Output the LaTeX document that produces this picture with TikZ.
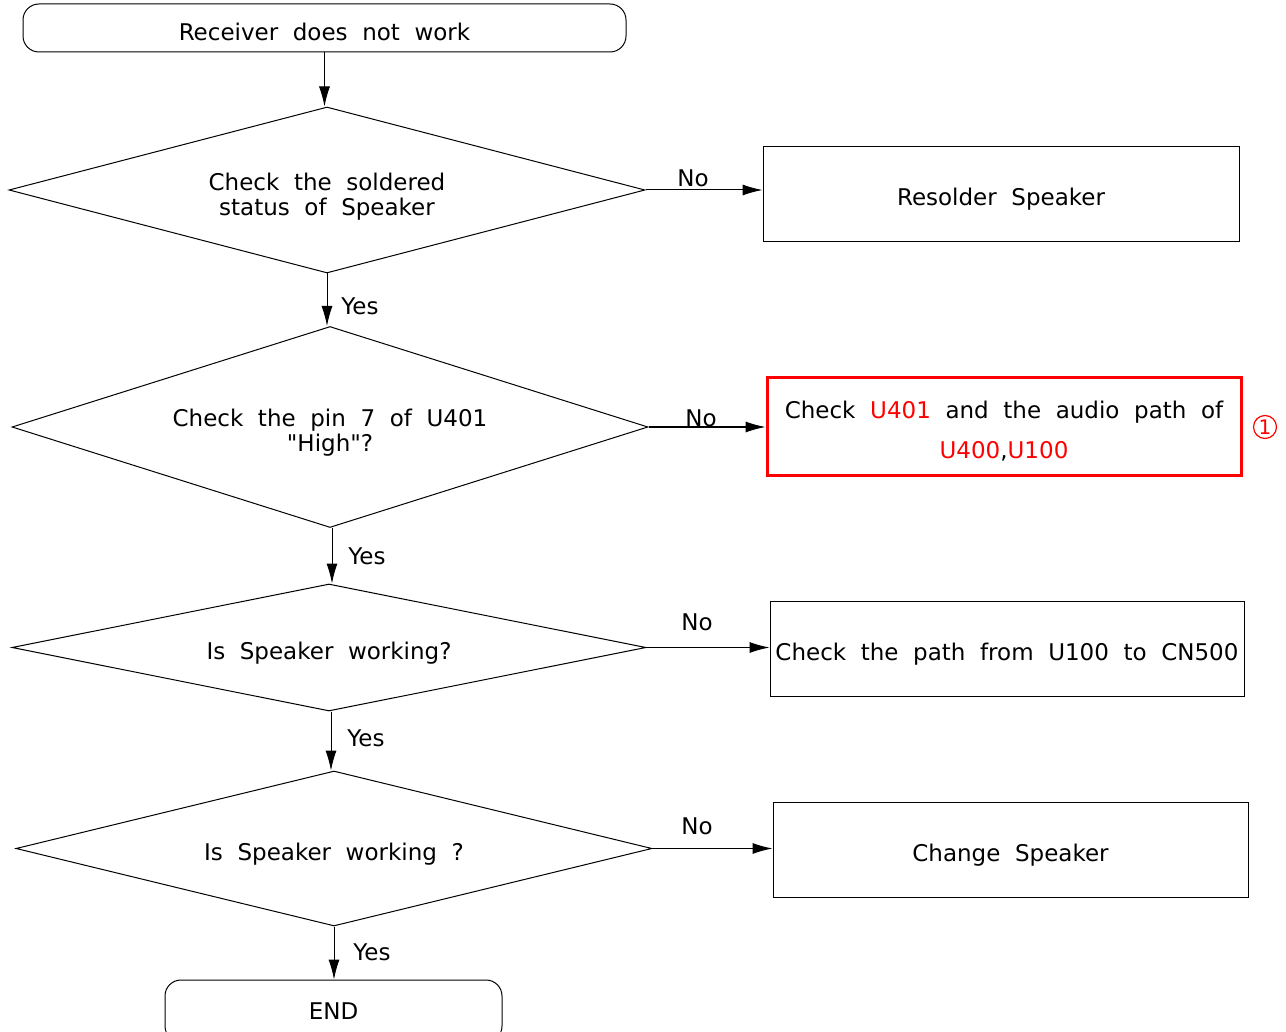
\documentclass[tikz,border=0pt]{standalone}
\usepackage{fontspec}
\setmainfont{DejaVu Sans}[Ligatures=TeXOff, WordSpace={2.0,0.2,0.2}]
\usetikzlibrary{shapes.geometric,arrows.meta}
\definecolor{alertred}{RGB}{255,0,0}
\newcommand\diafont{\fontsize{23}{25}\selectfont}
\newcommand\alertfont{\fontsize{23}{40}\selectfont}
\tikzset{
  txt/.style={font=\diafont, inner sep=0pt, align=center},
  shapebase/.style={inner sep=0pt, draw, line width=1pt},
  term/.style={shapebase, rounded corners=16pt},
  decision/.style={shapebase, diamond},
  procbox/.style={shapebase, rectangle},
  alertbox/.style={shapebase, draw=alertred, line width=3pt, rectangle},
  lbl/.style={txt},
  flow/.style={line width=1pt, -{Latex[length=20pt,width=11pt]}},
}
\begin{document}
\begin{tikzpicture}[x=1pt,y=-1pt]
\useasboundingbox (0,0) rectangle (1286,1032);
\begin{scope}
\clip (0,0) rectangle (1286,1032);
\node[term, minimum width=603pt, minimum height=48pt,
  label={[txt, yshift=-4pt]center:Receiver does not work}] (start) at (324.5,28) {};
\node[decision, minimum width=636pt, minimum height=166pt,
  label={[txt, yshift=-7pt]center:Check the soldered\\status of Speaker}] (d1) at (327,190) {};
\node[procbox, minimum width=476pt, minimum height=95pt,
  label={[txt, yshift=-5pt]center:Resolder Speaker}] (b1) at (1001,194.5) {};
\node[decision, minimum width=636pt, minimum height=201pt,
  label={[txt, yshift=-5.5pt]center:Check the pin 7 of U401\\"High"?}] (d2) at (330,427) {};
\node[alertbox, minimum width=474pt, minimum height=97pt,
  label={[txt, font=\alertfont, yshift=-5pt]center:Check \textcolor{alertred}{U401} and the audio path of\\\textcolor{alertred}{U400},\textcolor{alertred}{U100}}] (b2) at (1004,426.5) {};
\node[circle, draw=alertred, line width=1.2pt, text=alertred, minimum size=23pt, inner sep=0pt, font=\fontsize{20}{20}\selectfont] (mark1) at (1265,427) {1};
\node[decision, minimum width=634pt, minimum height=127pt,
  label={[txt, yshift=-6pt]center:Is Speaker working?}] (d3) at (329,647.5) {};
\node[procbox, minimum width=474pt, minimum height=95pt,
  label={[txt, yshift=-6pt]center:Check the path from U100 to CN500}] (b3) at (1007,648.5) {};
\node[decision, minimum width=636pt, minimum height=155pt,
  label={[txt, yshift=-6pt]center:Is Speaker working ?}] (d4) at (334,848.5) {};
\node[procbox, minimum width=475pt, minimum height=95pt,
  label={[txt, yshift=-6pt]center:Change Speaker}] (b4) at (1010.5,849.5) {};
\node[term, minimum width=337pt, minimum height=62pt,
  label={[txt, yshift=0pt]center:END}] (stop) at (333.5,1011) {};
\end{scope}
% connectors
\draw[flow] (start.south) -- (start.south |- d1.north);
\draw[flow] (d1.south) -- (d1.south |- d2.north);
\draw[flow] (d2.south) ++(2,0) coordinate (d2s) -- (d2s |- d3.north);
\draw[flow] (d3.south) ++(2,0) coordinate (d3s) -- (d3s |- d4.north);
\draw[flow] (d4.south) -- (d4.south |- stop.north);
\draw[flow] (d1.east) -- (d1.east -| b1.west);
\draw[flow] (d2.east) -- (d2.east -| b2.west);
\draw[flow] (d3.east) -- (d3.east -| b3.west);
\draw[flow] (d4.east) -- (d4.east -| b4.west);
% labels
\node[lbl] (n1) at (693,178) {No};
\node[lbl] (y1) at (360,306) {Yes};
\node[lbl] (n2) at (701,418) {No};
\node[lbl] (y2) at (367,556) {Yes};
\node[lbl] (n3) at (697,622) {No};
\node[lbl] (y3) at (366,738) {Yes};
\node[lbl] (n4) at (697,826) {No};
\node[lbl] (y4) at (372,952) {Yes};
\end{tikzpicture}
\end{document}
